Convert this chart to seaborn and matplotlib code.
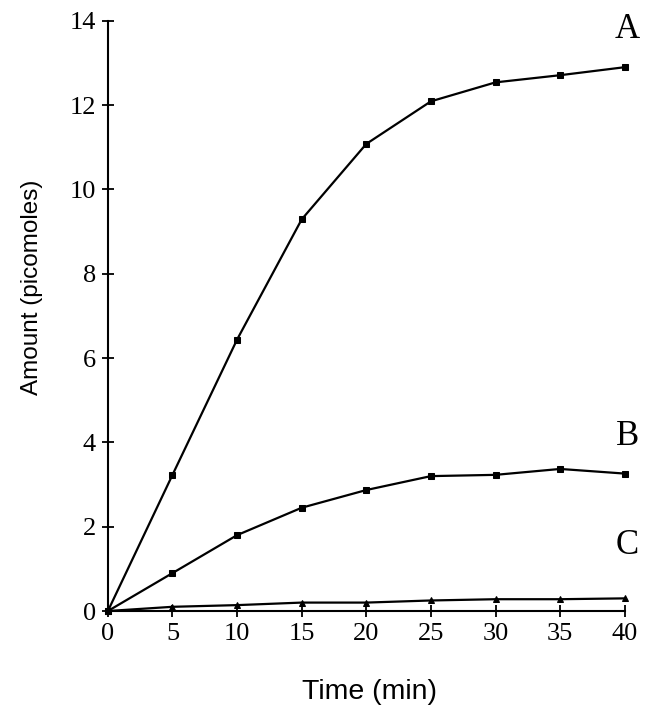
import pandas as pd
import numpy as np
import matplotlib.pyplot as plt
import seaborn as sns

time_min = [0, 5, 10, 15, 20, 25, 30, 35, 40]
amount_a = [0, 3.23, 6.44, 9.29, 11.08, 12.09, 12.54, 12.71, 12.9]
amount_b = [0, 0.9, 1.8, 2.45, 2.87, 3.2, 3.23, 3.37, 3.26]
amount_c = [0, 0.1, 0.14, 0.2, 0.2, 0.25, 0.28, 0.28, 0.3]
curve_names = ['A', 'B', 'C']

df = pd.DataFrame({
    'Time': time_min * 3,
    'Amount': amount_a + amount_b + amount_c,
    'Curve': [n for n in curve_names for _ in time_min],
})

sns.set_style('ticks')
plt.rcParams['font.family'] = ['Liberation Serif', 'DejaVu Serif']
plt.rcParams['text.color'] = 'black'
plt.rcParams['axes.labelcolor'] = 'black'

fig = plt.figure(figsize=(6.66, 7.18), dpi=100)
ax = fig.add_axes([0.162, 0.149, 0.776, 0.822])

sns.lineplot(data=df, x='Time', y='Amount', hue='Curve', style='Curve',
             markers={'A': 's', 'B': 's', 'C': '^'}, dashes=False,
             palette={'A': 'black', 'B': 'black', 'C': 'black'},
             markersize=5, markeredgecolor='black', linewidth=1.6,
             legend=False, ax=ax, clip_on=False)

ax.set_xlim(0, 40)
ax.set_ylim(0, 14)
ax.set_xticks(range(0, 41, 5))
ax.set_yticks(range(0, 15, 2))
sns.despine(ax=ax)
for s in ['left', 'bottom']:
    ax.spines[s].set_linewidth(1.5)
    ax.spines[s].set_color('black')
ax.tick_params(direction='inout', length=9, width=1.3, labelsize=19, pad=4, colors='black')

ax.set_xlabel('Time (min)', family='Liberation Sans', fontsize=20.5)
ax.set_ylabel('Amount (picomoles)', family='Liberation Sans', fontsize=17.5)
ax.xaxis.set_label_coords(0.507, -0.115)
ax.yaxis.set_label_coords(-0.126, 0.549)

# curve labels at the right end
label_y = [13.8, 4.15, 1.55]
for name, y in zip(curve_names, label_y):
    ax.text(40.2, y, name, ha='center', va='center', fontsize=25, clip_on=False)

fig.savefig('out.png', dpi=100)
